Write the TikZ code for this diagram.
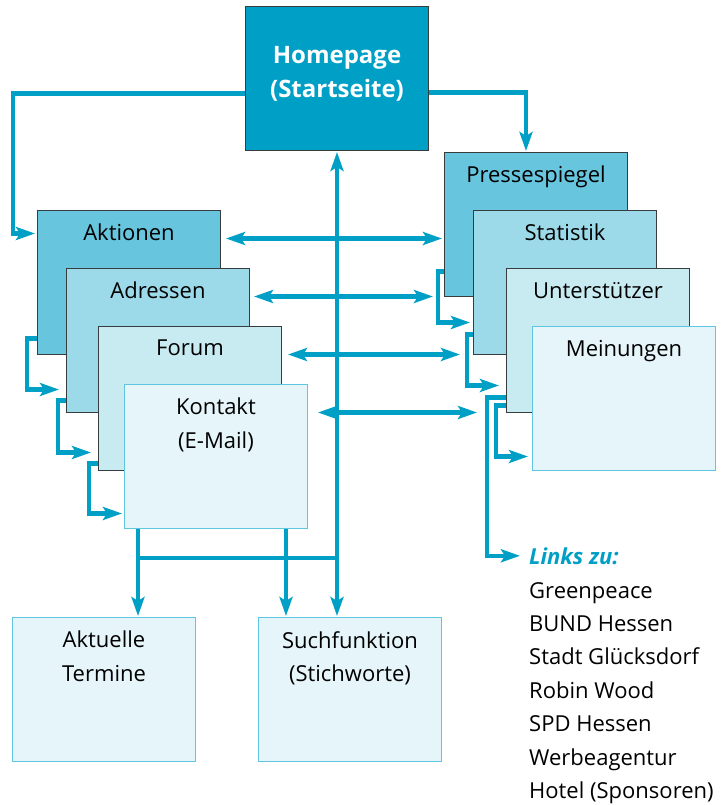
\documentclass[tikz,border=0pt]{standalone}
\usepackage{fontspec}
\setmainfont{Open Sans}
\usetikzlibrary{arrows.meta}
\definecolor{hpblau}{RGB}{0,160,198}
\definecolor{stufeA}{RGB}{103,197,222}
\definecolor{stufeB}{RGB}{156,218,233}
\definecolor{stufeC}{RGB}{200,235,242}
\definecolor{stufeD}{RGB}{229,245,250}
\definecolor{randD}{RGB}{95,198,224}
\definecolor{rand}{RGB}{55,60,62}
\begin{document}
\begin{tikzpicture}[x=1pt,y=-1pt,>={Stealth[length=19pt,width=13pt,inset=4pt]},
  font=\fontsize{22}{33.4}\selectfont,
  seite/.style={draw=rand,line width=1pt,minimum width=183pt,minimum height=144pt,inner sep=0pt,anchor=north west},
  titel/.style={label={[anchor=north,yshift=-14pt,inner sep=0pt,align=center]north:#1}},
  pfeil/.style={hpblau,line width=4.3pt}]
\useasboundingbox (0,0) rectangle (725,805);

\node[seite,fill=hpblau,label={[text=white,align=center,yshift=5pt,font=\bfseries\fontsize{24}{34}\selectfont]center:Homepage\\(Startseite)}] (home) at (245,6) {};

\node[seite,fill=stufeA,titel=Aktionen] (aktionen) at (37,210) {};
\node[seite,fill=stufeB,titel=Adressen] (adressen) at (66,268) {};
\node[seite,fill=stufeC,titel=Forum] (forum) at (98,326) {};
\node[seite,fill=stufeD,draw=randD,titel={Kontakt\\(E-Mail)}] (kontakt) at (124,384) {};

\node[seite,fill=stufeA,titel=Pressespiegel] (presse) at (444,152) {};
\node[seite,fill=stufeB,titel=Statistik] (statistik) at (473,210) {};
\node[seite,fill=stufeC,titel=Unterstützer] (unterst) at (506,268) {};
\node[seite,fill=stufeD,draw=randD,titel=Meinungen] (meinungen) at (532,326) {};

\node[seite,fill=stufeD,draw=randD,titel={Aktuelle\\Termine}] (termine) at (12,617) {};
\node[seite,fill=stufeD,draw=randD,titel={Suchfunktion\\(Stichworte)}] (such) at (258,617) {};

\node[anchor=base west,inner sep=0pt,text=hpblau,font=\bfseries\itshape\fontsize{22}{33.4}\selectfont] (linkszu) at (529,564) {Links zu:};
\node[anchor=north west,inner sep=0pt,align=left] (liste) at (529,582) {Greenpeace\\BUND Hessen\\Stadt Glücksdorf\\Robin Wood\\SPD Hessen\\Werbeagentur\\Hotel (Sponsoren)};

\draw[pfeil,->,shorten >=2pt] ([yshift=-15pt]home.west) -- ++(-232,0) |- ([yshift=49pt]aktionen.west);
\draw[pfeil,->,shorten >=1pt] ([yshift=-14pt]home.east) -| ([xshift=-10pt]presse.north);
\draw[pfeil,<->,shorten <=1pt,shorten >=1pt] (home.south) -- (home.south |- such.north);

\draw[pfeil,<->,shorten <=5pt,shorten >=2pt] ([yshift=44pt]aktionen.east) -- ([yshift=44pt]aktionen.east -| presse.west);
\draw[pfeil,<->,shorten <=4pt,shorten >=40pt] ([yshift=44pt]adressen.east) -- ([yshift=44pt]adressen.east -| statistik.west);
\draw[pfeil,<->,shorten <=6pt,shorten >=46pt] ([yshift=44pt]forum.east) -- ([yshift=44pt]forum.east -| unterst.west);
\draw[pfeil,<->,shorten <=10pt,shorten >=55pt] ([yshift=44pt]kontakt.east) -- ([yshift=44pt]kontakt.east -| meinungen.west);

\draw[pfeil,->,shorten >=7pt] ([yshift=-56pt]aktionen.west) -- ++(-10,0) |- ([yshift=-49pt]adressen.west);
\draw[pfeil,->,shorten >=7pt] ([yshift=-60pt]adressen.west) -- ++(-8,0) |- ([yshift=-54pt]forum.west);
\draw[pfeil,->,shorten >=2pt] ([yshift=-65pt]forum.west) -- ++(-9,0) |- ([yshift=-57pt]kontakt.west);

\draw[pfeil,->,shorten >=3pt] ([yshift=-47pt]presse.west) -- ++(-6,0) |- ([yshift=-40pt]statistik.west);
\draw[pfeil,->,shorten >=7pt] ([yshift=-52pt]statistik.west) -- ++(-6,0) |- ([yshift=-45pt]unterst.west);
\draw[pfeil,->,shorten >=9pt] ([yshift=-57pt]unterst.west) -- ++(-19,0) |- (linkszu.west);
\draw[pfeil,->,shorten >=4pt] ([yshift=-65pt]unterst.west) -- ++(-10,0) |- ([yshift=-58pt]meinungen.west);

\draw[pfeil,->,shorten >=1pt] ([xshift=14pt]kontakt.south west) -- ([xshift=14pt]kontakt.south west |- termine.north);
\draw[pfeil,->,shorten >=1pt] ([xshift=-22pt]kontakt.south east) -- ([xshift=-22pt]kontakt.south east |- such.north);
\coordinate (knick) at ([xshift=14pt,yshift=-29pt]kontakt.south west);
\draw[pfeil] (knick) -- (knick -| home.south);
\end{tikzpicture}
\end{document}
